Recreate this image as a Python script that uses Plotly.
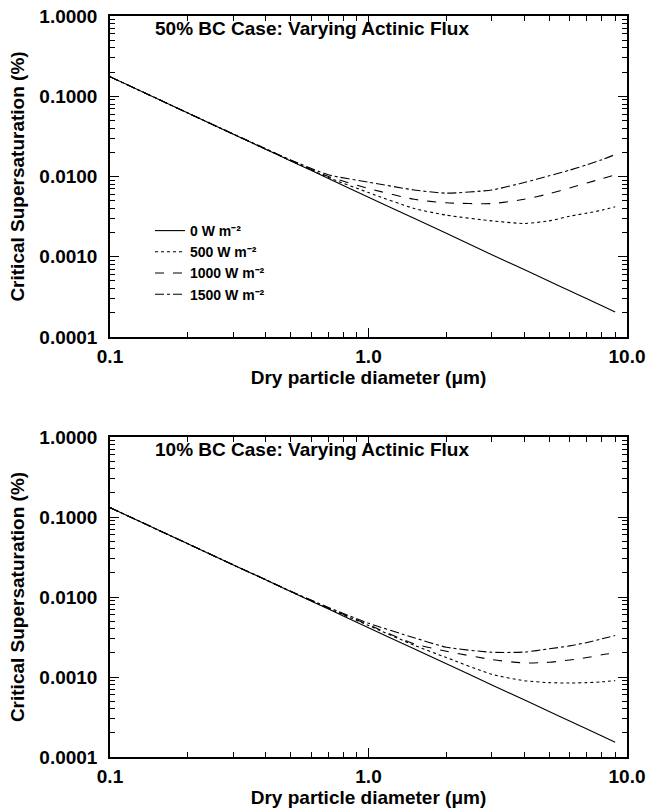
import plotly.graph_objects as go
from plotly.subplots import make_subplots

# Dry particle diameter (um)
diameter = [0.1, 0.2, 0.3, 0.4, 0.5, 0.7, 1.0, 1.5, 2.0, 3.0, 4.0, 5.0, 6.0, 7.0, 8.0, 9.0]

# 50% BC case: critical supersaturation (%)
bc50_0w = [0.175, 0.0619, 0.0337, 0.0219, 0.01565, 0.00945, 0.00553, 0.00301, 0.00196,
           0.00106, 0.000692, 0.000495, 0.000377, 0.000299, 0.000245, 0.000205]
bc50_500w = [0.175, 0.0619, 0.0337, 0.0219, 0.0158, 0.0097, 0.0063, 0.0040, 0.0033,
             0.0028, 0.0026, 0.0028, 0.0032, 0.0035, 0.0038, 0.0042]
bc50_1000w = [0.175, 0.0619, 0.0337, 0.0221, 0.0159, 0.0100, 0.0071, 0.0052, 0.0047,
              0.0046, 0.0052, 0.0061, 0.0072, 0.0083, 0.0094, 0.0105]
bc50_1500w = [0.175, 0.0619, 0.0338, 0.0222, 0.0161, 0.0105, 0.0085, 0.0068, 0.0062,
              0.0068, 0.0084, 0.0102, 0.0120, 0.0140, 0.0162, 0.0188]

# 10% BC case: critical supersaturation (%)
bc10_0w = [0.131, 0.0463, 0.0252, 0.0164, 0.0117, 0.00707, 0.00414, 0.00225, 0.00146,
           0.000797, 0.000518, 0.00037, 0.000282, 0.000224, 0.000183, 0.000153]
bc10_500w = [0.131, 0.0463, 0.0252, 0.0164, 0.0117, 0.0072, 0.0044, 0.0025, 0.00175,
             0.00108, 0.00090, 0.00085, 0.00084, 0.00085, 0.00087, 0.00090]
bc10_1000w = [0.131, 0.0463, 0.0252, 0.0164, 0.0118, 0.0073, 0.0045, 0.0026, 0.0021,
              0.00165, 0.00150, 0.00153, 0.00163, 0.00175, 0.0019, 0.0020]
bc10_1500w = [0.131, 0.0463, 0.0252, 0.0165, 0.0118, 0.0074, 0.0047, 0.0031, 0.00236,
              0.00204, 0.00205, 0.00225, 0.00245, 0.0027, 0.0030, 0.0033]

series_names = ["0 W m⁻²", "500 W m⁻²", "1000 W m⁻²", "1500 W m⁻²"]
series_dash = ["solid", "dot", "dash", "dashdot"]
panel_titles = ["50% BC Case: Varying Actinic Flux", "10% BC Case: Varying Actinic Flux"]

y_tickvals = [0.0001, 0.001, 0.01, 0.1, 1.0]
y_ticktext = ["0.0001", "0.0010", "0.0100", "0.1000", "1.0000"]
x_tickvals = [0.1, 1.0, 10.0]
x_ticktext = ["0.1", "1.0", "10.0"]

FONT = "Liberation Sans"
W, H = 650, 808

fig = make_subplots(rows=2, cols=1)

panels = [
    [bc50_0w, bc50_500w, bc50_1000w, bc50_1500w],
    [bc10_0w, bc10_500w, bc10_1000w, bc10_1500w],
]
for r, panel in enumerate(panels, start=1):
    for vals, name, dash in zip(panel, series_names, series_dash):
        fig.add_trace(go.Scatter(
            x=diameter, y=vals, mode="lines", name=name,
            line=dict(color="black", width=1.1, dash=dash, shape="spline", smoothing=0.6),
            showlegend=(r == 1),
        ), row=r, col=1)

# plot areas in window pixels (left, right, top, bottom)
px_left, px_right = 110, 627
rows_px = [(16, 337), (437, 757)]

axis_common = dict(
    type="log", showgrid=False, zeroline=False, automargin=False,
    showline=True, linecolor="black", linewidth=1.5, mirror="ticks",
    ticks="inside", ticklen=9, tickwidth=1.2, tickcolor="black",
    minor=dict(ticks="inside", ticklen=5, tickwidth=1, tickcolor="black", dtick="D1", showgrid=False),
    tickfont=dict(family=FONT, size=19, color="black", weight="bold"),
    ticklabeloverflow="allow",
)

for i, (top, bot) in enumerate(rows_px, start=1):
    xa = "xaxis" if i == 1 else f"xaxis{i}"
    ya = "yaxis" if i == 1 else f"yaxis{i}"
    fig.layout[xa].update(
        domain=[px_left / W, px_right / W], range=[-1, 1],
        tickvals=x_tickvals, ticktext=x_ticktext, ticklabelstandoff=1,
        title=dict(text="Dry particle diameter (μm)", standoff=2,
                   font=dict(family=FONT, size=19, color="black", weight="bold")),
        **axis_common,
    )
    fig.layout[ya].update(
        domain=[1 - bot / H, 1 - top / H], range=[-4, 0],
        tickvals=y_tickvals, ticktext=y_ticktext, ticklabelstandoff=7,
        title=dict(text="Critical Supersaturation (%)", standoff=10,
                   font=dict(family=FONT, size=19, color="black", weight="bold")),
        **axis_common,
    )
    fig.add_annotation(
        text=panel_titles[i - 1], xref=f"x{'' if i == 1 else i} domain", yref=f"y{'' if i == 1 else i} domain",
        x=0.083, y=0.962, xanchor="left", yanchor="middle", showarrow=False,
        font=dict(family=FONT, size=19, color="black", weight="bold"),
    )

fig.update_layout(
    width=W, height=H, autosize=False,
    margin=dict(l=0, r=0, t=0, b=0, autoexpand=False),
    paper_bgcolor="white", plot_bgcolor="white",
    showlegend=True,
    legend=dict(
        x=150 / W, y=1 - 215 / H, xref="paper", yref="paper",
        xanchor="left", yanchor="top",
        bgcolor="rgba(0,0,0,0)", borderwidth=0,
        font=dict(family=FONT, size=14, color="black", weight="bold"),
        itemwidth=30, tracegroupgap=0,
    ),
)

fig.write_html(
    "out.html",
    config={"displayModeBar": False},
    post_script="document.body.style.margin='0';document.body.style.overflow='hidden';",
)
